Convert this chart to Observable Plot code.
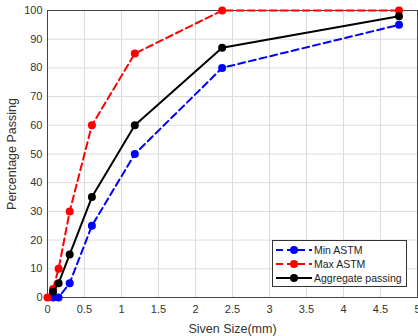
<!DOCTYPE html>
<html><head><meta charset="utf-8">
<script src="https://cdn.jsdelivr.net/npm/d3@7"></script>
<script src="https://cdn.jsdelivr.net/npm/@observablehq/plot@0.6"></script>
<style>
body{margin:0;background:#fff;font-family:"Liberation Sans",Arial,sans-serif}
#c{position:relative;width:418px;height:336px;overflow:hidden}
#legend{position:absolute;left:272px;top:240px;width:135px;height:47px;border:1px solid #333;background:#fff;font-size:10.5px;color:#222;box-sizing:border-box;padding-top:2px;white-space:nowrap}
#legend .row{display:flex;align-items:center;height:14px}
#legend svg{margin:0 2px 0 3px;flex:none}
g[aria-label="x-axis label"] text, g[aria-label="y-axis label"] text{font-size:12.5px}
</style>
</head><body><div id="c"></div>
<script>
const sizesMin = [0.075, 0.15, 0.3, 0.6, 1.18, 2.36, 4.75];
const minASTM = [0, 0, 5, 25, 50, 80, 95];
const sizesMax = [0, 0.075, 0.15, 0.3, 0.6, 1.18, 2.36, 4.75];
const maxASTM = [0, 3, 10, 30, 60, 85, 100, 100];
const sizesAgg = [0.075, 0.15, 0.3, 0.6, 1.18, 2.36, 4.75];
const aggregate = [2, 5, 15, 35, 60, 87, 98];
const xTicks = [0, 0.5, 1, 1.5, 2, 2.5, 3, 3.5, 4, 4.5, 5];
const yTicks = [0, 10, 20, 30, 40, 50, 60, 70, 80, 90, 100];
const seriesNames = ["Min ASTM", "Max ASTM", "Aggregate passing"];
const seriesColors = ["#0000ff", "#ff0000", "#000000"];

const mk = (xs, ys, name) => xs.map((x, i) => ({x, y: ys[i], name}));
const dMin = mk(sizesMin, minASTM, seriesNames[0]);
const dMax = mk(sizesMax, maxASTM, seriesNames[1]);
const dAgg = mk(sizesAgg, aggregate, seriesNames[2]);

const chart = Plot.plot({
  width: 418, height: 336,
  marginLeft: 47, marginRight: 1, marginTop: 10, marginBottom: 39,
  style: {fontFamily: "'Liberation Sans', Arial, sans-serif", fontSize: "11px", color: "#333", background: "#fff"},
  x: {domain: [0, 5], ticks: xTicks, tickFormat: d => String(d), label: "Siven Size(mm)", labelAnchor: "center", labelArrow: "none", labelOffset: 35, tickSize: 0, tickPadding: 8},
  y: {domain: [0, 100], ticks: yTicks, tickFormat: d => String(d), label: "Percentage Passing", labelAnchor: "center", labelArrow: "none", labelOffset: 40, tickSize: 0, tickPadding: 5},
  marks: [
    Plot.gridX(xTicks, {stroke: "#dcdcdc", strokeOpacity: 1}),
    Plot.gridY(yTicks, {stroke: "#dcdcdc", strokeOpacity: 1}),
    Plot.frame({stroke: "#444"}),
    Plot.line(dMin, {x: "x", y: "y", stroke: seriesColors[0], strokeWidth: 2, strokeDasharray: "7,4"}),
    Plot.dot(dMin, {x: "x", y: "y", fill: seriesColors[0], r: 4}),
    Plot.line(dMax, {x: "x", y: "y", stroke: seriesColors[1], strokeWidth: 2, strokeDasharray: "7,4"}),
    Plot.dot(dMax, {x: "x", y: "y", fill: seriesColors[1], r: 4}),
    Plot.line(dAgg, {x: "x", y: "y", stroke: seriesColors[2], strokeWidth: 2}),
    Plot.dot(dAgg, {x: "x", y: "y", fill: seriesColors[2], r: 4})
  ]
});
const c = document.getElementById("c");
c.appendChild(chart);

const leg = document.createElement("div");
leg.id = "legend";
seriesNames.forEach((n, i) => {
  const row = document.createElement("div");
  row.className = "row";
  const dash = i < 2 ? 'stroke-dasharray="7,4"' : '';
  row.innerHTML = `<svg width="36" height="12"><line x1="0" y1="6" x2="36" y2="6" stroke="${seriesColors[i]}" stroke-width="2" ${dash}/><circle cx="18" cy="6" r="4" fill="${seriesColors[i]}"/></svg><span>${n}</span>`;
  leg.appendChild(row);
});
c.appendChild(leg);
</script>
</body></html>
